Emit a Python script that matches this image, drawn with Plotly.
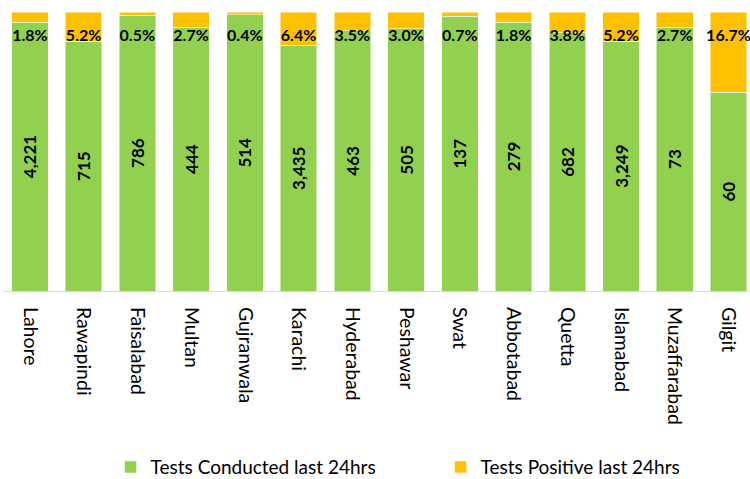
import plotly.graph_objects as go

cities = ["Lahore", "Rawapindi", "Faisalabad", "Multan", "Gujranwala", "Karachi",
          "Hyderabad", "Peshawar", "Swat", "Abbotabad", "Quetta", "Islamabad",
          "Muzaffarabad", "Gilgit"]
tests_conducted = [4221, 715, 786, 444, 514, 3435, 463, 505, 137, 279, 682, 3249, 73, 60]
positive_pct_labels = ["1.8%", "5.2%", "0.5%", "2.7%", "0.4%", "6.4%", "3.5%",
                       "3.0%", "0.7%", "1.8%", "3.8%", "5.2%", "2.7%", "16.7%"]
# share of each bar (0..1)
positive_share = [0.036, 0.105, 0.011, 0.054, 0.009, 0.120, 0.067,
                  0.060, 0.016, 0.036, 0.075, 0.105, 0.054, 0.288]
conducted_share = [1 - s for s in positive_share]

GREEN = "#92D050"
YELLOW = "#FFC000"
FONT = "Lato"

fig = go.Figure()
fig.add_trace(go.Bar(
    x=cities, y=conducted_share, name="Tests Conducted last 24hrs",
    marker=dict(color=GREEN, line=dict(color="white", width=0.5)),
    text=[f"{v:,}" for v in tests_conducted],
    textposition="inside", insidetextanchor="middle", textangle=-90,
    constraintext="none",
    textfont=dict(family=FONT, size=17, color="black", weight="bold"),
    hoverinfo="skip",
))
fig.add_trace(go.Bar(
    x=cities, y=positive_share, name="Tests Positive last 24hrs",
    marker=dict(color=YELLOW, line=dict(color="white", width=0.5)),
    hoverinfo="skip",
))
fig.add_trace(go.Scatter(
    x=cities, y=[0.911] * len(cities), mode="text", text=positive_pct_labels,
    textfont=dict(family=FONT, size=16, color="black", weight="bold"),
    showlegend=False, cliponaxis=False, hoverinfo="skip",
))

fig.update_layout(
    width=750, height=479,
    margin=dict(l=3, r=0, t=12, b=188, autoexpand=False),
    barmode="stack", bargap=0.32,
    plot_bgcolor="white", paper_bgcolor="white",
    font=dict(family=FONT, size=19, color="black"),
    showlegend=True,
    legend=dict(orientation="h", x=0.144, xanchor="left", y=-0.631, yanchor="middle",
                traceorder="normal",
                font=dict(family=FONT, size=19, color="black"),
                entrywidth=285, entrywidthmode="pixels", itemwidth=30),
    xaxis=dict(range=[-0.5, 13.4], tickangle=90, showline=True, linecolor="#d9d9d9",
               linewidth=1, ticks="", showgrid=False, ticklabelstandoff=11,
               tickfont=dict(family=FONT, size=19.5, color="black")),
    yaxis=dict(range=[0, 1], showticklabels=False, showgrid=False, zeroline=False),
)

fig.write_html("out.html", config={"displayModeBar": False},
               post_script="document.body.style.margin='0';")
